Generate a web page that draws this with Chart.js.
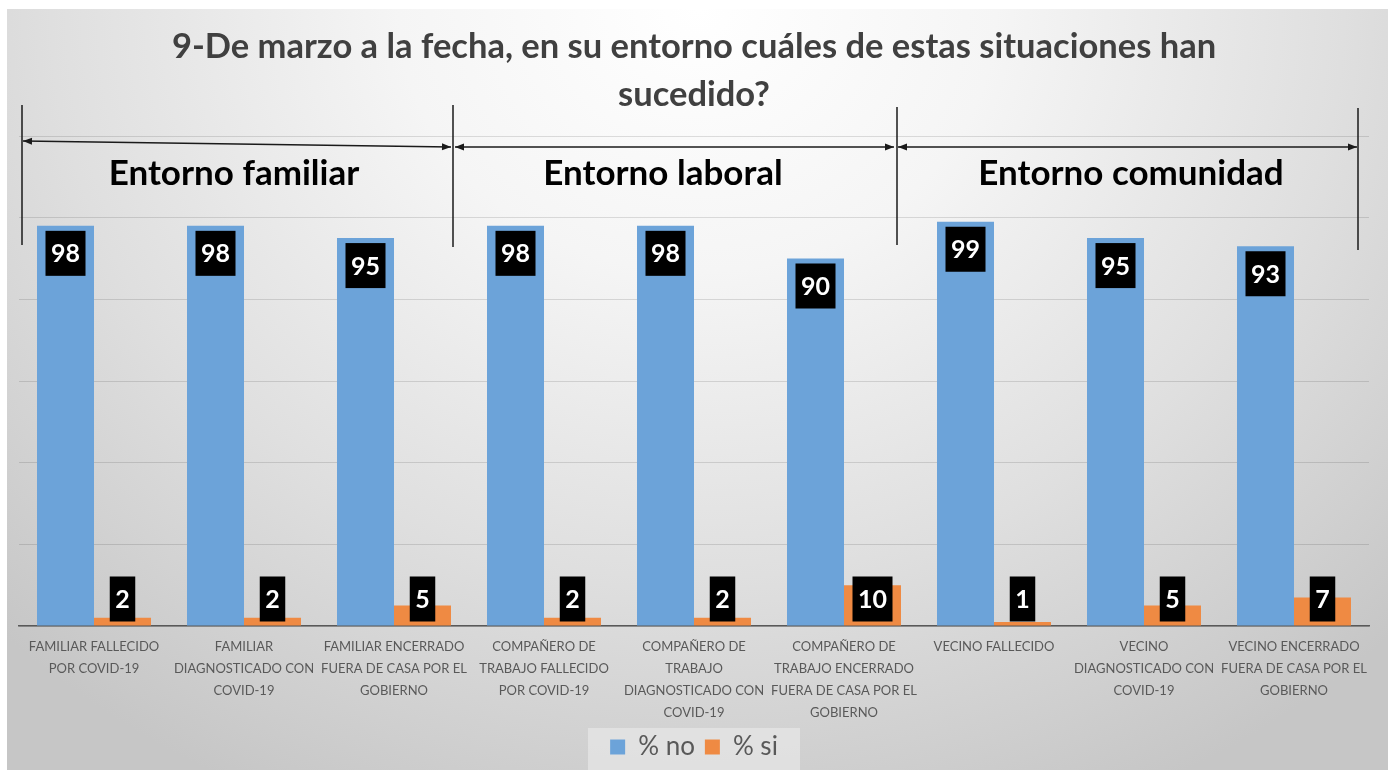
<!DOCTYPE html>
<html>
<head>
<meta charset="utf-8">
<script src="https://cdn.jsdelivr.net/npm/chart.js@4"></script>
<style>
  html, body { margin: 0; padding: 0; background: #ffffff; }
  #wrap {
    position: absolute; left: 0; top: 0; width: 1388px; height: 770px;
  }
  #bg {
    position: absolute; left: 7px; top: 9px; right: 0; bottom: 0;
    background: radial-gradient(ellipse 72% 115% at 50% 0%, #ffffff 0%, #f5f5f5 30%, #dfdfdf 65%, #c6c6c6 100%);
  }
  canvas { position: absolute; left: 0; top: 0; }
</style>
</head>
<body>
<div id="wrap">
  <div id="bg"></div>
  <canvas id="myChart" width="1388" height="770"></canvas>
</div>
<script>
const categories = [
  ['FAMILIAR FALLECIDO', 'POR COVID-19'],
  ['FAMILIAR', 'DIAGNOSTICADO CON', 'COVID-19'],
  ['FAMILIAR ENCERRADO', 'FUERA DE CASA POR EL', 'GOBIERNO'],
  ['COMPAÑERO DE', 'TRABAJO FALLECIDO', 'POR COVID-19'],
  ['COMPAÑERO DE', 'TRABAJO', 'DIAGNOSTICADO CON', 'COVID-19'],
  ['COMPAÑERO DE', 'TRABAJO ENCERRADO', 'FUERA DE CASA POR EL', 'GOBIERNO'],
  ['VECINO FALLECIDO'],
  ['VECINO', 'DIAGNOSTICADO CON', 'COVID-19'],
  ['VECINO ENCERRADO', 'FUERA DE CASA POR EL', 'GOBIERNO']
];
const seriesNo = [98, 98, 95, 98, 98, 90, 99, 95, 93];
const seriesSi = [2, 2, 5, 2, 2, 10, 1, 5, 7];
const seriesNames = ['% no', '% si'];
const groupNames = ['Entorno familiar', 'Entorno laboral', 'Entorno comunidad'];
const titleLines = ['9-De marzo a la fecha, en su entorno cuáles de estas situaciones han', 'sucedido?'];
const yMax = 120;
const yStep = 20;

// black boxes with white numbers
const boxLabels = {
  id: 'boxLabels',
  afterDatasetsDraw(chart) {
    const ctx = chart.ctx;
    ctx.save();
    ctx.font = 'bold 25px Lato';
    ctx.textAlign = 'center';
    ctx.textBaseline = 'middle';
    chart.data.datasets.forEach((ds, i) => {
      const meta = chart.getDatasetMeta(i);
      meta.data.forEach((bar, j) => {
        const p = bar.getProps(['x', 'y', 'base'], true);
        const txt = String(ds.data[j]);
        const w = ctx.measureText(txt).width + 11;
        const h = 45;
        const top = i === 0 ? p.y + 5 : p.base - 4 - h;
        ctx.fillStyle = '#000000';
        ctx.fillRect(p.x - w / 2, top, w, h);
        ctx.fillStyle = '#ffffff';
        ctx.fillText(txt, p.x, top + h / 2 + 1);
      });
    });
    ctx.restore();
  }
};

function arrow(ctx, x1, y1, x2, y2) {
  ctx.beginPath();
  ctx.moveTo(x1, y1);
  ctx.lineTo(x2, y2);
  ctx.stroke();
  const a = Math.atan2(y2 - y1, x2 - x1);
  [[x2, y2, a], [x1, y1, a + Math.PI]].forEach(([x, y, ang]) => {
    ctx.beginPath();
    ctx.moveTo(x, y);
    ctx.lineTo(x - 9 * Math.cos(ang) + 3.5 * Math.sin(ang), y - 9 * Math.sin(ang) - 3.5 * Math.cos(ang));
    ctx.lineTo(x - 9 * Math.cos(ang) - 3.5 * Math.sin(ang), y - 9 * Math.sin(ang) + 3.5 * Math.cos(ang));
    ctx.closePath();
    ctx.fill();
  });
}

// group brackets and headers
const groups = {
  id: 'groups',
  afterDraw(chart) {
    const ctx = chart.ctx;
    ctx.save();
    ctx.strokeStyle = '#1a1a1a';
    ctx.fillStyle = '#1a1a1a';
    ctx.lineWidth = 1.5;
    [[22, 105, 245], [453, 105, 247], [897, 107, 245], [1358, 108, 250]].forEach(([x, a, b]) => {
      ctx.beginPath();
      ctx.moveTo(x, a);
      ctx.lineTo(x, b);
      ctx.stroke();
    });
    arrow(ctx, 23, 141, 451, 147);
    arrow(ctx, 455, 147, 894, 147);
    arrow(ctx, 898, 147, 1357, 147);
    ctx.fillStyle = '#000000';
    ctx.font = 'bold 35px Lato';
    ctx.textAlign = 'center';
    ctx.textBaseline = 'middle';
    const cx = [234, 663, 1131];
    groupNames.forEach((g, i) => ctx.fillText(g, cx[i], 174));
    ctx.restore();
  }
};

// light box behind legend
const legendBox = {
  id: 'legendBox',
  beforeDraw(chart) {
    const l = chart.legend;
    if (!l) return;
    const ctx = chart.ctx;
    ctx.save();
    ctx.fillStyle = 'rgba(235,235,235,0.6)';
    const w = 212;
    ctx.fillRect(l.left + l.width / 2 - w / 2, l.top + 4, w, l.height);
    ctx.restore();
  }
};

const chart = new Chart(document.getElementById('myChart'), {
  type: 'bar',
  data: {
    labels: categories,
    datasets: [{
      label: seriesNames[0],
      data: seriesNo,
      backgroundColor: '#6ca3d9',
      borderWidth: 0
    }, {
      label: seriesNames[1],
      data: seriesSi,
      backgroundColor: '#ef8a43',
      borderWidth: 0
    }]
  },
  options: {
    responsive: false,
    animation: false,
    categoryPercentage: 0.76,
    barPercentage: 1,
    layout: { padding: { left: 19, right: 19, bottom: 0 } },
    plugins: {
      title: {
        display: true,
        text: titleLines,
        color: '#404040',
        font: { family: 'Lato', size: 34.5, weight: 'bold', lineHeight: '48px' },
        padding: { top: 23, bottom: 17 }
      },
      legend: {
        position: 'bottom',
        labels: {
          color: '#595959',
          font: { family: 'Lato', size: 26 },
          boxWidth: 15,
          boxHeight: 15,
          padding: 10
        }
      },
      tooltip: { enabled: false }
    },
    scales: {
      x: {
        grid: { display: false, drawTicks: false },
        border: { color: '#595959', width: 1.5 },
        ticks: {
          color: '#595959',
          font: { family: 'Lato', size: 13, lineHeight: '22px' },
          padding: 10,
          maxRotation: 0,
          autoSkip: false
        },
        afterFit(scale) { scale.height = 98; }
      },
      y: {
        min: 0,
        max: yMax,
        ticks: { display: false, stepSize: yStep },
        border: { display: false },
        grid: {
          color: 'rgba(0,0,0,0.12)',
          drawTicks: false
        }
      }
    }
  },
  plugins: [legendBox, boxLabels, groups]
});
</script>
</body>
</html>
